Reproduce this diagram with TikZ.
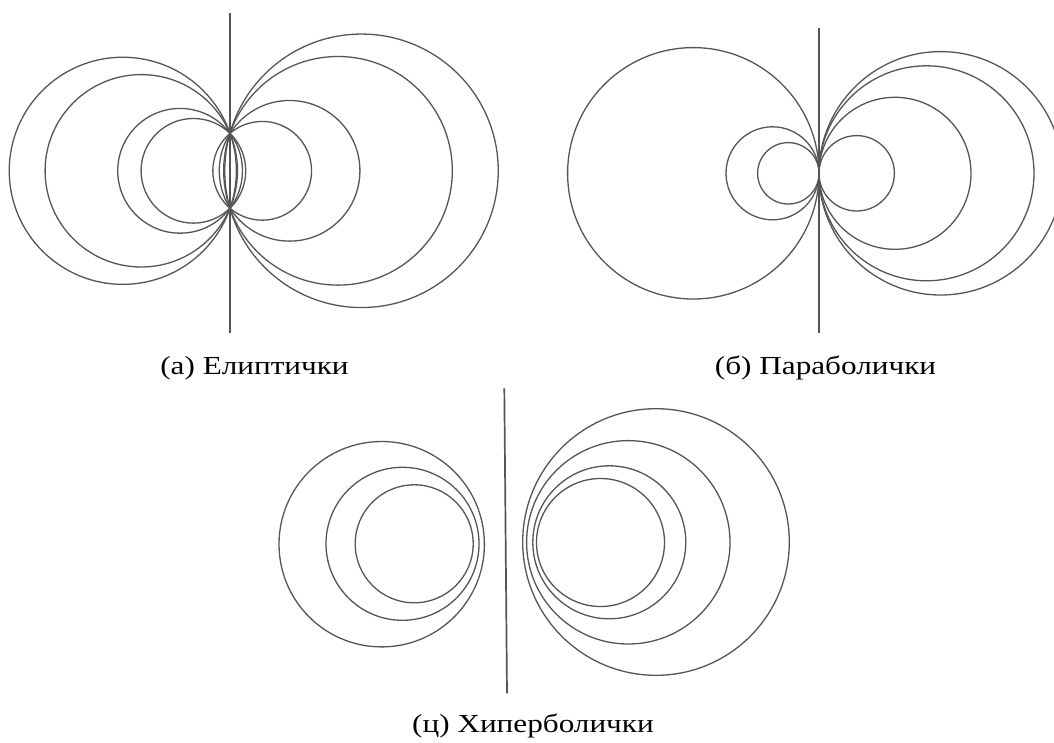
\documentclass[tikz,border=0pt]{standalone}
\usepackage{fontspec}
\newfontfamily\capfont[FakeStretch=1.2]{Liberation Serif}
\definecolor{ln}{HTML}{555555}
\begin{document}
\begin{tikzpicture}[x=1pt,y=-1pt,
  curve/.style={draw=ln,line width=1.3pt},
  axis/.style={draw=ln,line width=1.7pt},
  capstyle/.style={anchor=base,inner sep=0pt,font=\capfont\fontsize{26}{31}\selectfont,text=black}]
\useasboundingbox (0,0) rectangle (1054,742);
\clip (0,0) rectangle (1054,742);
% (a) elliptic pencil
\coordinate (aTop) at (230,13);
\coordinate (aBot) at (230,333);
\draw[axis] (aTop) -- (aBot);
\foreach \c in {-107.2,-88.7,-49.9,-36.6,32.2,59.6,108,131.5}{
  \pgfmathsetmacro\r{veclen(37.5,\c)}
  \draw[curve] (230+\c,170.8) circle[radius=\r pt];
}
% (b) parabolic pencil
\coordinate (bTop) at (819,28.3);
\coordinate (bBot) at (819,333.3);
\draw[axis] (bTop) -- (bBot);
\foreach \r in {125.7,46.5,30.7}{
  \draw[curve] (819-\r,173.3) circle[radius=\r pt];
}
\foreach \r in {121.7,107.5,76,37.7}{
  \draw[curve] (819+\r,173.3) circle[radius=\r pt];
}
% (c) hyperbolic pencil
\coordinate (cTop) at (504.3,388.3);
\coordinate (cBot) at (507,693.3);
\draw[axis] (cTop) -- (cBot);
\foreach \x/\y/\r in {381.7/544.2/102.7, 402.5/543.8/76.5, 414.2/543.8/59,
                      656/542/133.3, 628.3/542.3/101.7, 609.3/542.3/76.5, 600.5/542.5/64}{
  \draw[curve] (\x,\y) circle[radius=\r pt];
}
% captions
\node[capstyle] (capA) at (254.5,374.5) {(а) Елиптички};
\node[capstyle] (capB) at (825.5,374.5) {(б) Параболички};
\node[capstyle] (capC) at (533,732) {(ц) Хиперболички};
\end{tikzpicture}
\end{document}
